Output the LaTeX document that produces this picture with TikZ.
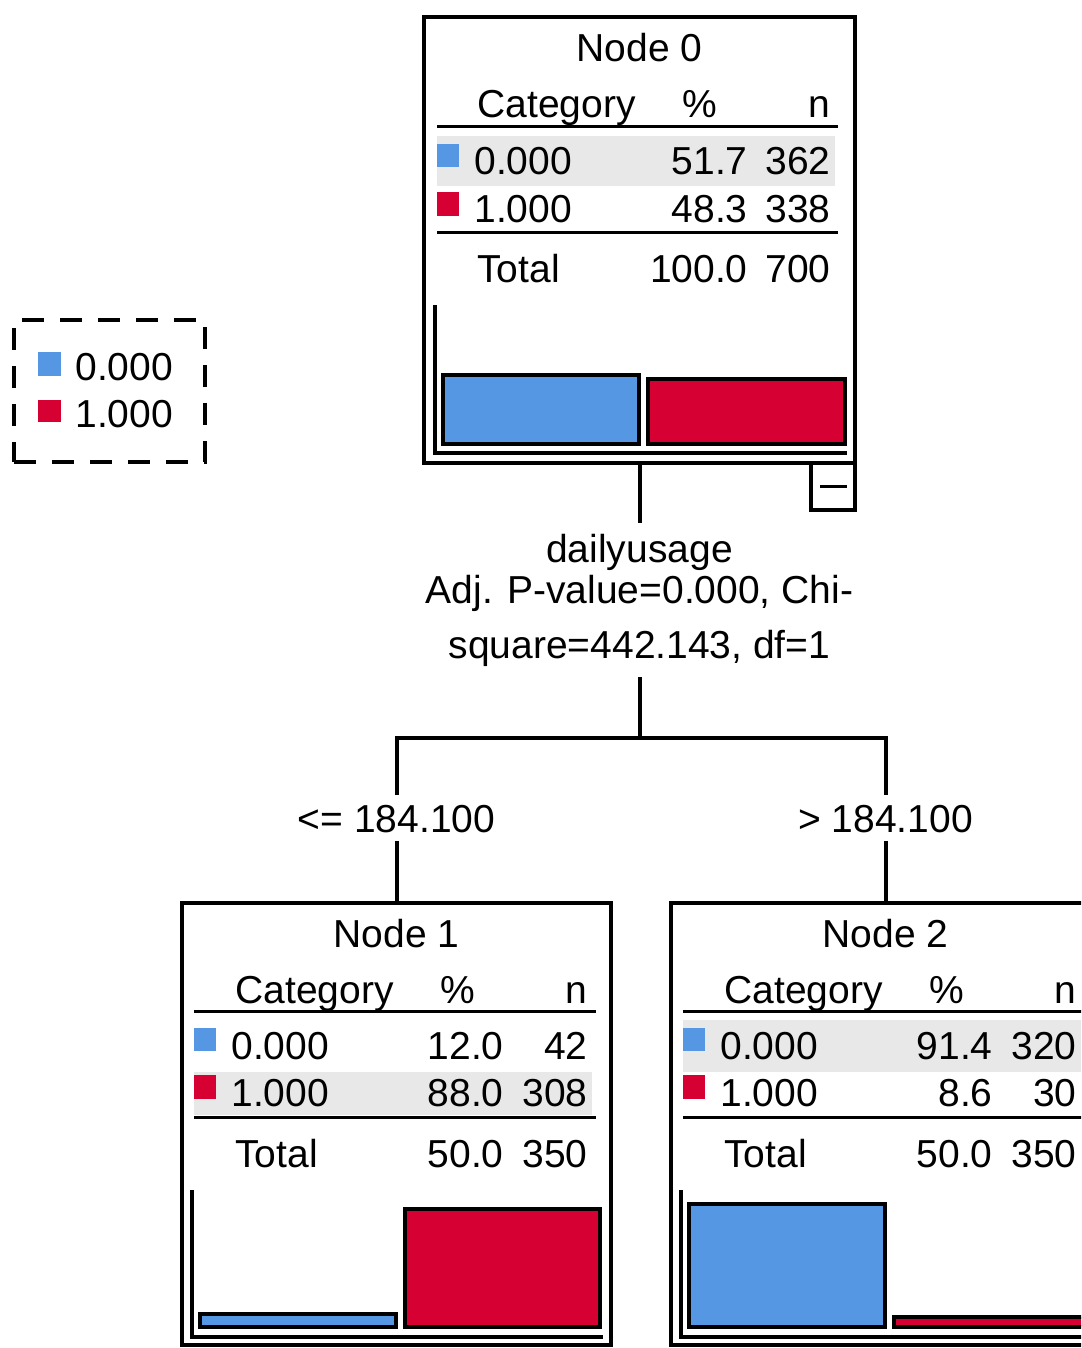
\documentclass[tikz,border=0pt]{standalone}
\usepackage{fontspec}
\setmainfont{Liberation Sans}

\definecolor{catblue}{RGB}{85,151,227}
\definecolor{catred}{RGB}{215,0,51}
\definecolor{rowgray}{RGB}{232,232,232}
\newcommand{\treefont}{\fontsize{19.5}{20.5}\selectfont}

\tikzset{
    treebox/.style={
           rectangle,
           draw=black, line width=2pt,
           minimum width=215.5pt, minimum height=223pt,
           inner sep=0pt, anchor=north west,
           },
    togglebox/.style={
           rectangle,
           draw=black, line width=2pt,
           minimum width=22pt, minimum height=23.5pt,
           inner sep=0pt, anchor=north east,
           },
    legendbox/.style={
           rectangle,
           draw=black, line width=2pt, dash pattern=on 11pt off 8pt,
           minimum width=95.5pt, minimum height=71pt,
           inner sep=0pt, anchor=north west,
           },
    cell/.style={inner sep=0pt, font=\treefont, text height=14pt, text depth=0pt},
    splitinfo/.style={inner xsep=0pt, inner ysep=5.3pt, font=\treefont, align=center, anchor=north},
    splitlabel/.style={inner xsep=0pt, inner ysep=4.25pt, font=\treefont, text height=14pt, text depth=0pt},
    tablerule/.style={line width=1.5pt},
    connector/.style={line width=2pt},
    histbar/.style={draw=black, line width=2pt},
}

\begin{document}
\begin{tikzpicture}[x=0.5pt,y=-0.5pt]
\useasboundingbox (0,0) rectangle (1081,1348);
\clip (0,0) rectangle (1081,1348);

       % legend
       \node[legendbox] (LEGEND) at (12,318) {};
       \fill[catblue] ([xshift=13pt,yshift=-17pt]LEGEND.north west) rectangle ++(11.5pt,-12pt);
       \node[cell,anchor=west] (LEGENDA) at ([xshift=31.5pt,yshift=-24pt]LEGEND.north west) {0.000};
       \fill[catred] ([xshift=13pt,yshift=-41pt]LEGEND.north west) rectangle ++(11.5pt,-11pt);
       \node[cell,anchor=west] (LEGENDB) at ([xshift=31.5pt,yshift=-47.5pt]LEGEND.north west) {1.000};

       % node 0
       \node[treebox] (NODE0) at (422,15) {};
       \node[cell] (N0TITLE) at ([yshift=-16.5pt]NODE0.north) {Node 0};
       \node[cell,anchor=west] (N0CAT) at ([xshift=27.5pt,yshift=-44.5pt]NODE0.north west) {Category};
       \node[cell] (N0PCT) at ([xshift=139pt,yshift=-44.5pt]NODE0.north west) {\%};
       \node[cell,anchor=east] (N0N) at ([xshift=204.5pt,yshift=-44.5pt]NODE0.north west) {n};
       \draw[tablerule] ([xshift=7.5pt,yshift=-56pt]NODE0.north west) -- ([xshift=208pt,yshift=-56pt]NODE0.north west);
       \fill[rowgray] ([xshift=7.5pt,yshift=-60.5pt]NODE0.north west) rectangle ([xshift=206.5pt,yshift=-85.5pt]NODE0.north west);
       \fill[catblue] ([xshift=7.5pt,yshift=-64.5pt]NODE0.north west) rectangle ++(11pt,-11.5pt);
       \node[cell,anchor=west] (N0CATA) at ([xshift=26pt,yshift=-73pt]NODE0.north west) {0.000};
       \node[cell,anchor=east] (N0PCTA) at ([xshift=163pt,yshift=-73pt]NODE0.north west) {51.7};
       \node[cell,anchor=east] (N0NA) at ([xshift=204.5pt,yshift=-73pt]NODE0.north west) {362};
       \fill[catred] ([xshift=7.5pt,yshift=-88.5pt]NODE0.north west) rectangle ++(11pt,-12pt);
       \node[cell,anchor=west] (N0CATB) at ([xshift=26pt,yshift=-97pt]NODE0.north west) {1.000};
       \node[cell,anchor=east] (N0PCTB) at ([xshift=163pt,yshift=-97pt]NODE0.north west) {48.3};
       \node[cell,anchor=east] (N0NB) at ([xshift=204.5pt,yshift=-97pt]NODE0.north west) {338};
       \draw[tablerule] ([xshift=7.5pt,yshift=-109pt]NODE0.north west) -- ([xshift=208pt,yshift=-109pt]NODE0.north west);
       \node[cell,anchor=west] (N0TOTAL) at ([xshift=27.5pt,yshift=-126.5pt]NODE0.north west) {Total};
       \node[cell,anchor=east] (N0PCTT) at ([xshift=163pt,yshift=-126.5pt]NODE0.north west) {100.0};
       \node[cell,anchor=east] (N0NT) at ([xshift=204.5pt,yshift=-126.5pt]NODE0.north west) {700};
       \draw[histbar] ([xshift=6.5pt,yshift=80pt]NODE0.south west) |- ([xshift=212.5pt,yshift=6pt]NODE0.south west);
       \draw[histbar,fill=catblue] ([xshift=10.5pt,yshift=10.5pt]NODE0.south west) rectangle ++(98pt,34.5pt);
       \draw[histbar,fill=catred] ([xshift=113pt,yshift=10.5pt]NODE0.south west) rectangle ++(98.5pt,32.5pt);
       \node[togglebox] (TOGGLE0) at ([yshift=2pt]NODE0.south east) {};
       \draw[tablerule] ([xshift=-6.5pt]TOGGLE0.center) -- ([xshift=7pt]TOGGLE0.center);

       % split
       \node[splitinfo] (SPLIT0) at ([yshift=-29pt]NODE0.south)
       {dailyusage\\Adj. P-value=0.000, Chi-\\[7pt]square=442.143, df=1};
       \coordinate (FORK) at ([yshift=-30.5pt]SPLIT0.south);

       % node 1
       \node[treebox,minimum width=214.5pt,minimum height=221pt] (NODE1) at (180,901) {};
       \node[cell] (N1TITLE) at ([yshift=-16pt]NODE1.north) {Node 1};
       \node[cell,anchor=west] (N1CAT) at ([xshift=27.5pt,yshift=-44pt]NODE1.north west) {Category};
       \node[cell] (N1PCT) at ([xshift=139pt,yshift=-44pt]NODE1.north west) {\%};
       \node[cell,anchor=east] (N1N) at ([xshift=204pt,yshift=-44pt]NODE1.north west) {n};
       \draw[tablerule] ([xshift=7pt,yshift=-55pt]NODE1.north west) -- ([xshift=208pt,yshift=-55pt]NODE1.north west);
       \fill[rowgray] ([xshift=7pt,yshift=-85.5pt]NODE1.north west) rectangle ([xshift=206pt,yshift=-107pt]NODE1.north west);
       \fill[catblue] ([xshift=7pt,yshift=-63.5pt]NODE1.north west) rectangle ++(11pt,-11.5pt);
       \node[cell,anchor=west] (N1CATA) at ([xshift=25.5pt,yshift=-72pt]NODE1.north west) {0.000};
       \node[cell,anchor=east] (N1PCTA) at ([xshift=162pt,yshift=-72pt]NODE1.north west) {12.0};
       \node[cell,anchor=east] (N1NA) at ([xshift=204pt,yshift=-72pt]NODE1.north west) {42};
       \fill[catred] ([xshift=7pt,yshift=-87pt]NODE1.north west) rectangle ++(11pt,-12pt);
       \node[cell,anchor=west] (N1CATB) at ([xshift=25.5pt,yshift=-95.5pt]NODE1.north west) {1.000};
       \node[cell,anchor=east] (N1PCTB) at ([xshift=162pt,yshift=-95.5pt]NODE1.north west) {88.0};
       \node[cell,anchor=east] (N1NB) at ([xshift=204pt,yshift=-95.5pt]NODE1.north west) {308};
       \draw[tablerule] ([xshift=7pt,yshift=-108pt]NODE1.north west) -- ([xshift=208pt,yshift=-108pt]NODE1.north west);
       \node[cell,anchor=west] (N1TOTAL) at ([xshift=27.5pt,yshift=-126pt]NODE1.north west) {Total};
       \node[cell,anchor=east] (N1PCTT) at ([xshift=162pt,yshift=-126pt]NODE1.north west) {50.0};
       \node[cell,anchor=east] (N1NT) at ([xshift=204pt,yshift=-126pt]NODE1.north west) {350};
       \draw[histbar] ([xshift=6pt,yshift=78.5pt]NODE1.south west) |- ([xshift=211.5pt,yshift=5pt]NODE1.south west);
       \draw[histbar,fill=catblue] ([xshift=10pt,yshift=10pt]NODE1.south west) rectangle ++(98pt,6.5pt);
       \draw[histbar,fill=catred] ([xshift=112.5pt,yshift=10pt]NODE1.south west) rectangle ++(97.5pt,59pt);

       % node 2
       \node[treebox,minimum width=214.5pt,minimum height=221pt] (NODE2) at (669,901) {};
       \node[cell] (N2TITLE) at ([yshift=-16pt]NODE2.north) {Node 2};
       \node[cell,anchor=west] (N2CAT) at ([xshift=27.5pt,yshift=-44pt]NODE2.north west) {Category};
       \node[cell] (N2PCT) at ([xshift=139pt,yshift=-44pt]NODE2.north west) {\%};
       \node[cell,anchor=east] (N2N) at ([xshift=204pt,yshift=-44pt]NODE2.north west) {n};
       \draw[tablerule] ([xshift=7pt,yshift=-55pt]NODE2.north west) -- ([xshift=208pt,yshift=-55pt]NODE2.north west);
       \fill[rowgray] ([xshift=7pt,yshift=-59.5pt]NODE2.north west) rectangle ([xshift=206pt,yshift=-85.5pt]NODE2.north west);
       \fill[catblue] ([xshift=7pt,yshift=-63.5pt]NODE2.north west) rectangle ++(11pt,-11.5pt);
       \node[cell,anchor=west] (N2CATA) at ([xshift=25.5pt,yshift=-72pt]NODE2.north west) {0.000};
       \node[cell,anchor=east] (N2PCTA) at ([xshift=162pt,yshift=-72pt]NODE2.north west) {91.4};
       \node[cell,anchor=east] (N2NA) at ([xshift=204pt,yshift=-72pt]NODE2.north west) {320};
       \fill[catred] ([xshift=7pt,yshift=-87pt]NODE2.north west) rectangle ++(11pt,-12pt);
       \node[cell,anchor=west] (N2CATB) at ([xshift=25.5pt,yshift=-95.5pt]NODE2.north west) {1.000};
       \node[cell,anchor=east] (N2PCTB) at ([xshift=162pt,yshift=-95.5pt]NODE2.north west) {8.6};
       \node[cell,anchor=east] (N2NB) at ([xshift=204pt,yshift=-95.5pt]NODE2.north west) {30};
       \draw[tablerule] ([xshift=7pt,yshift=-108pt]NODE2.north west) -- ([xshift=208pt,yshift=-108pt]NODE2.north west);
       \node[cell,anchor=west] (N2TOTAL) at ([xshift=27.5pt,yshift=-126pt]NODE2.north west) {Total};
       \node[cell,anchor=east] (N2PCTT) at ([xshift=162pt,yshift=-126pt]NODE2.north west) {50.0};
       \node[cell,anchor=east] (N2NT) at ([xshift=204pt,yshift=-126pt]NODE2.north west) {350};
       \draw[histbar] ([xshift=6pt,yshift=78.5pt]NODE2.south west) |- ([xshift=211.5pt,yshift=5pt]NODE2.south west);
       \draw[histbar,fill=catblue] ([xshift=10pt,yshift=10pt]NODE2.south west) rectangle ++(98pt,61.5pt);
       \draw[histbar,fill=catred] ([xshift=112.5pt,yshift=10pt]NODE2.south west) rectangle ++(97.5pt,5pt);

       % split labels
       \node[splitlabel] (SPLITLEFT) at ([yshift=41.5pt]NODE1.north) {<= 184.100};
       \node[splitlabel] (SPLITRIGHT) at ([yshift=41.5pt]NODE2.north) {> 184.100};

       \draw[connector] (NODE0.south) -- (SPLIT0.north) ;
       \draw[connector] (SPLIT0.south) -- (FORK) ;
       \draw[connector] (SPLITLEFT.north) |- (FORK) -| (SPLITRIGHT.north) ;
       \draw[connector] (SPLITLEFT.south) -- (NODE1.north) ;
       \draw[connector] (SPLITRIGHT.south) -- (NODE2.north) ;

\end{tikzpicture}
\end{document}
